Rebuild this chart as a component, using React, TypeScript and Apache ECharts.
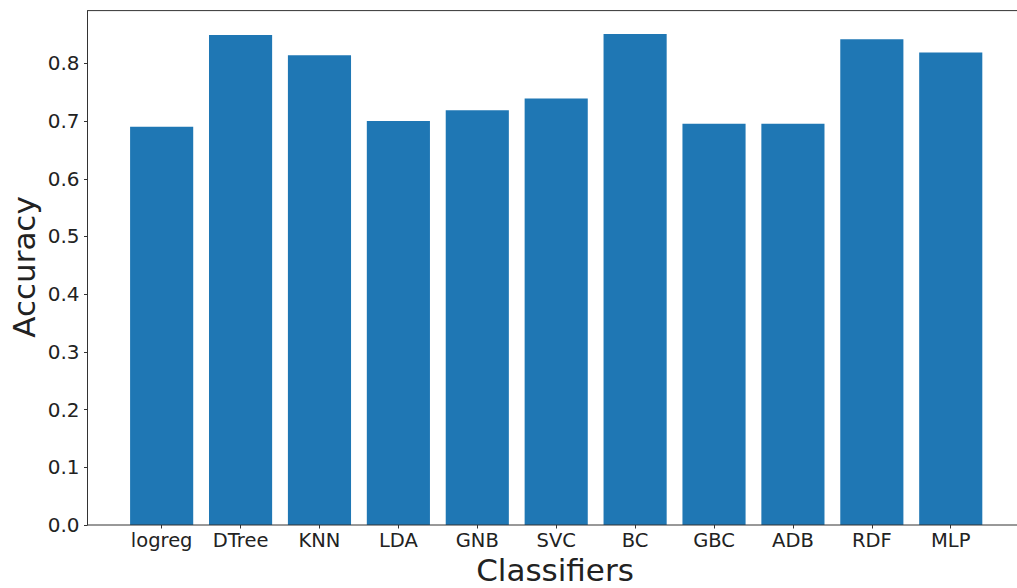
import React, { useEffect, useRef } from "react";
import * as echarts from "echarts";

const categories = ["logreg", "DTree", "KNN", "LDA", "GNB", "SVC", "BC", "GBC", "ADB", "RDF", "MLP"];
const accuracy = [0.690, 0.849, 0.814, 0.700, 0.719, 0.739, 0.851, 0.6955, 0.6955, 0.842, 0.819];
const yTicks = [0, 0.1, 0.2, 0.3, 0.4, 0.5, 0.6, 0.7, 0.8];
const yMax = 0.8915;

const FONT = "DejaVu Sans";
const TXT = "#222";
const AX = "#333";

export default function App() {
  const ref = useRef<HTMLDivElement>(null);
  useEffect(() => {
    if (!ref.current) return;
    const chart = echarts.init(ref.current, null, { renderer: "svg" });
    const L = 87.5, T = 10.6, B = 525;
    const gl = 122.2, gr = 990.2;
    chart.setOption({
      animation: false,
      backgroundColor: "#fff",
      grid: { left: gl, right: 1017 - gr, top: T, bottom: 588 - B, containLabel: false },
      xAxis: {
        type: "category",
        data: categories,
        boundaryGap: true,
        axisLine: { show: false },
        axisTick: { show: true, alignWithLabel: true, interval: 0, length: 3.5, lineStyle: { color: AX, width: 1 } },
        axisLabel: { interval: 0, hideOverlap: false, fontFamily: FONT, fontSize: 19.5, lineHeight: 18, color: TXT, margin: 6 },
        splitLine: { show: false },
      },
      yAxis: {
        type: "value",
        min: 0,
        max: yMax,
        offset: gl - L,
        axisLine: { show: true, lineStyle: { color: AX, width: 1 } },
        axisTick: { show: true, length: 3.5, customValues: yTicks, lineStyle: { color: AX, width: 1 } },
        axisLabel: {
          customValues: yTicks,
          fontFamily: FONT,
          fontSize: 20,
          color: TXT,
          margin: 8,
          formatter: (v: number) => v.toFixed(1),
        },
        splitLine: { show: false },
      },
      series: [
        {
          type: "bar",
          data: accuracy,
          barWidth: "80%",
          itemStyle: { color: "#1f77b4" },
        },
      ],
      graphic: [
        { type: "line", shape: { x1: L, y1: T, x2: 1017, y2: T }, style: { stroke: AX, lineWidth: 1 } },
        { type: "line", shape: { x1: L, y1: B, x2: 1017, y2: B }, style: { stroke: AX, lineWidth: 1 }, z: 100 },
        {
          type: "text",
          x: 555,
          y: 570,
          style: { text: "Classifiers", fontFamily: FONT, fontSize: 31, lineHeight: 28, fill: TXT, align: "center", verticalAlign: "middle" },
        },
        {
          type: "text",
          x: 24,
          y: 267,
          rotation: Math.PI / 2,
          style: { text: "Accuracy", fontFamily: FONT, fontSize: 31, fill: TXT, align: "center", verticalAlign: "middle" },
        },
      ],
    });
    return () => chart.dispose();
  }, []);
  return <div ref={ref} style={{ position: "fixed", left: 0, top: 0, width: 1017, height: 588 }} />;
}
